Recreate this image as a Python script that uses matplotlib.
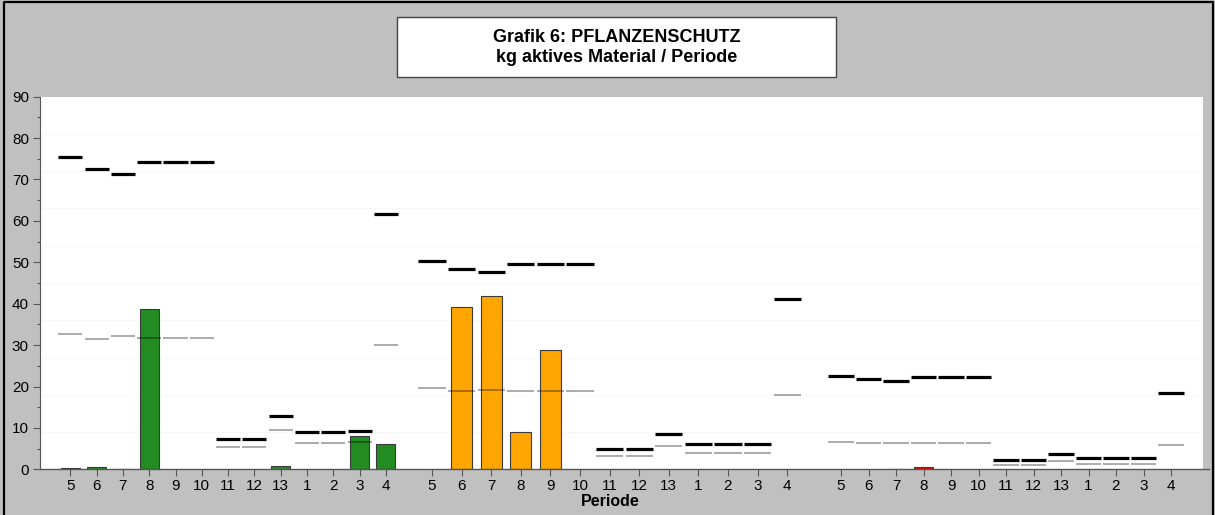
import matplotlib
matplotlib.use("Agg")
import matplotlib.pyplot as plt
from matplotlib.patches import Rectangle
import numpy as np

plt.rcParams['font.family'] = ['Liberation Sans', 'DejaVu Sans']

periods = ["5", "6", "7", "8", "9", "10", "11", "12", "13", "1", "2", "3", "4"]

# Group 1 (green)
g1_values = [0.3, 0.5, 0.1, 38.6, 0, 0, 0, 0, 0.9, 0, 0, 8.1, 6.0]
g1_upper = [75.5, 72.6, 71.4, 74.2, 74.2, 74.2, 7.3, 7.3, 12.9, 9.1, 9.1, 9.25, 61.7]
g1_mean = [32.8, 31.5, 32.1, 31.6, 31.6, 31.6, 5.4, 5.4, 9.6, 6.4, 6.4, 6.6, 30.0]

# Group 2 (orange)
g2_values = [0, 39.2, 41.9, 8.9, 28.7, 0, 0, 0, 0, 0, 0, 0, 0]
g2_upper = [50.3, 48.4, 47.6, 49.5, 49.5, 49.5, 4.8, 4.8, 8.6, 6.1, 6.1, 6.2, 41.1]
g2_mean = [19.7, 18.8, 19.2, 18.9, 18.9, 18.9, 3.1, 3.1, 5.7, 3.9, 3.9, 3.95, 18.0]

# Group 3 (red)
g3_values = [0, 0, 0.05, 0.65, 0, 0, 0, 0, 0, 0, 0, 0, 0]
g3_upper = [22.6, 21.7, 21.3, 22.2, 22.2, 22.2, 2.2, 2.2, 3.8, 2.65, 2.65, 2.7, 18.4]
g3_mean = [6.5, 6.3, 6.4, 6.3, 6.3, 6.3, 0.95, 0.95, 1.9, 1.2, 1.2, 1.2, 5.9]

W, H = 1215, 515
fig = plt.figure(figsize=(W / 100, H / 100), dpi=100, facecolor='#c0c0c0')

# layout in pixels
ax_left, ax_right, ax_top, ax_bottom = 40, 1203, 96.7, 469.3
ax = fig.add_axes([ax_left / W, 1 - ax_bottom / H, (ax_right - ax_left) / W, (ax_bottom - ax_top) / H])
ax.set_facecolor('white')
ax.set_xlim(ax_left, ax_right)
ax.set_ylim(0, 90)

groups = [
    (g1_values, g1_upper, g1_mean, '#228B22', 70.3, 26.3),
    (g2_values, g2_upper, g2_mean, '#FFA500', 432.0, 29.6),
    (g3_values, g3_upper, g3_mean, '#EE0000', 841.0, 27.5),
]

# faint grid
for gy in np.arange(9, 90, 9):
    ax.axhline(gy, color='#f8f8f8', lw=0.8, zorder=0)

all_x = []
all_lbl = []
for vals, up, mn, col, start, step in groups:
    x = start + step * np.arange(len(periods))
    all_x.extend(x)
    all_lbl.extend(periods)
    v = np.array(vals, dtype=float)
    mask = v > 0
    ax.bar(x[mask], v[mask], width=step * 0.72, color=col, edgecolor='#3a3a3a',
           linewidth=0.8, zorder=2)
    dw = step * 0.92
    ax.hlines(up, x - dw / 2, x + dw / 2, colors='black', linewidth=2.3, zorder=4)
    ax.hlines(mn, x - dw / 2, x + dw / 2, colors='black', alpha=0.42, linewidth=1.1, zorder=3)

for s in ['top', 'right']:
    ax.spines[s].set_visible(False)
ax.spines['left'].set_color('#555555')
ax.spines['bottom'].set_visible(False)

ax.set_yticks(np.arange(0, 91, 10))
ax.set_yticks(np.arange(5, 90, 10), minor=True)
ax.tick_params(axis='y', which='major', length=5, width=0.8, color='#555555',
               labelsize=11, pad=3)
ax.tick_params(axis='y', which='minor', length=2.2, width=0.8, color='#555555')
ax.set_xticks(all_x)
ax.set_xticklabels(all_lbl)
ax.tick_params(axis='x', which='major', length=5, width=0.8, color='#555555',
               labelsize=11, pad=2)

# x-axis line extending past plot area
fig.add_artist(plt.Line2D([ax_left / W, 1209 / W], [1 - ax_bottom / H] * 2,
                          color='#555555', lw=1.0))

fig.text(610 / W, 1 - 502 / H, 'Periode', ha='center', va='center',
         fontsize=11.5, fontweight='bold')

# title box
fig.add_artist(Rectangle((397 / W, 1 - 77 / H), (836 - 397) / W, 60 / H,
                         transform=fig.transFigure, facecolor='white',
                         edgecolor='#444444', linewidth=1.0))
fig.text(617 / W, 1 - 37 / H, 'Grafik 6: PFLANZENSCHUTZ', ha='center', va='center',
         fontsize=13, fontweight='bold')
fig.text(617 / W, 1 - 58 / H, 'kg aktives Material / Periode', ha='center', va='center',
         fontsize=13, fontweight='bold')

# outer border
fig.add_artist(plt.Line2D([4 / W, 4 / W, 1212.5 / W, 1212.5 / W],
                          [0, 1 - 2 / H, 1 - 2 / H, 0], color='black', lw=1.6))

fig.savefig('out.png', dpi=100, facecolor=fig.get_facecolor())
